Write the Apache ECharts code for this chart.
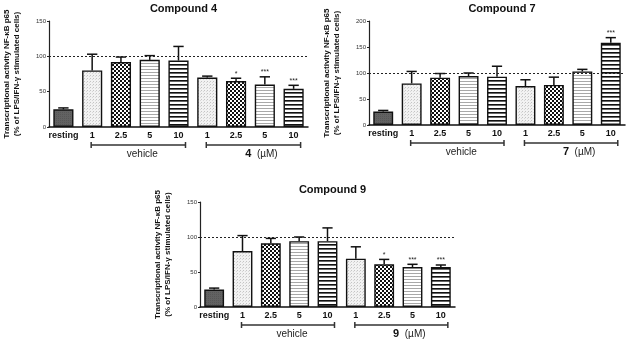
<!DOCTYPE html>
<html>
<head>
<meta charset="utf-8">
<script src="https://cdn.jsdelivr.net/npm/echarts@6/dist/echarts.min.js"></script>
<style>
  html, body { margin: 0; padding: 0; background: #fff; }
  #main { width: 629px; height: 340px; }
</style>
</head>
<body>
<div id="main"></div>
<script>
// categories (resting, vehicle 1..10, compound 1..10 µM)
const categories = ['resting', '1', '2.5', '5', '10', '1', '2.5', '5', '10']
const patternKeys = ['solid', 'stipple', 'checker', 'fine', 'bold', 'stipple', 'checker', 'fine', 'bold']

// mean values (% of LPS/IFN-γ stimulated cells) and upper error (SEM)
const c4Mean = [25, 80, 92, 95, 94, 70, 65, 60, 54]
const c4Err = [2, 23, 7, 6, 20, 2, 4, 11, 5]
const c4Stars = ['', '', '', '', '', '', '*', '***', '***']

const c7Mean = [26, 80, 91, 94, 93, 75, 77, 103, 158]
const c7Err = [2, 23, 8, 6, 20, 12, 15, 4, 10]
const c7Stars = ['', '', '', '', '', '', '', '', '***']

const c9Mean = [25, 80, 91, 94, 94, 69, 61, 57, 57]
const c9Err = [2, 22, 7, 6, 19, 17, 7, 4, 3]
const c9Stars = ['', '', '', '', '', '', '*', '***', '***']

// group brackets under the axis: [first index, last index]
const groupRanges = [[1, 4], [5, 8]]

const yTicks4 = { max: 150, interval: 50 }
const yTicks7 = { max: 200, interval: 50 }
const yTicks9 = { max: 150, interval: 50 }

const FONT = '"Liberation Sans", Arial, sans-serif'

function makePattern(w, h, draw) {
  const c = document.createElement('canvas')
  c.width = w
  c.height = h
  const ctx = c.getContext('2d')
  draw(ctx)
  return { image: c, repeat: 'repeat' }
}

const patterns = {
  solid: makePattern(2, 2, ctx => {
    ctx.fillStyle = '#626262'
    ctx.fillRect(0, 0, 2, 2)
    ctx.fillStyle = '#575757'
    ctx.fillRect(0, 0, 1, 1)
  }),
  stipple: makePattern(3, 3, ctx => {
    ctx.fillStyle = '#f2f2f2'
    ctx.fillRect(0, 0, 3, 3)
    ctx.fillStyle = '#c4c4c4'
    ctx.fillRect(0, 0, 1, 1)
    ctx.fillStyle = '#d8d8d8'
    ctx.fillRect(2, 1, 1, 1)
  }),
  checker: makePattern(4, 4, ctx => {
    ctx.fillStyle = '#ffffff'
    ctx.fillRect(0, 0, 4, 4)
    ctx.fillStyle = '#111111'
    ctx.fillRect(0, 0, 2, 2)
    ctx.fillRect(2, 2, 2, 2)
  }),
  fine: makePattern(2, 3, ctx => {
    ctx.fillStyle = '#ffffff'
    ctx.fillRect(0, 0, 2, 3)
    ctx.fillStyle = '#a8a8a8'
    ctx.fillRect(0, 0, 2, 1)
  }),
  bold: makePattern(2, 4, ctx => {
    ctx.fillStyle = '#ffffff'
    ctx.fillRect(0, 0, 2, 4)
    ctx.fillStyle = '#111111'
    ctx.fillRect(0, 0, 2, 1)
    ctx.fillStyle = '#666666'
    ctx.fillRect(0, 1, 2, 1)
  })
}

const panels = [
  { title: 'Compound 4', compound: '4', mean: c4Mean, err: c4Err, stars: c4Stars, ticks: yTicks4,
    grid: { left: 49, top: 21, width: 259, height: 106 } },
  { title: 'Compound 7', compound: '7', mean: c7Mean, err: c7Err, stars: c7Stars, ticks: yTicks7,
    grid: { left: 369, top: 21, width: 256, height: 104 } },
  { title: 'Compound 9', compound: '9', mean: c9Mean, err: c9Err, stars: c9Stars, ticks: yTicks9,
    grid: { left: 200, top: 202, width: 255, height: 105 } }
]

const chart = echarts.init(document.getElementById('main'))

const grids = []
const xAxes = []
const yAxes = []
const titles = []
const series = []

panels.forEach((p, i) => {
  grids.push(p.grid)
  titles.push({
    text: p.title,
    left: p.grid.left + p.grid.width / 2,
    top: p.grid.top - 23,
    textAlign: 'center',
    textStyle: { fontFamily: FONT, fontSize: 11, fontWeight: 'bold', color: '#111' }
  })
  xAxes.push({
    type: 'category',
    gridIndex: i,
    data: categories,
    axisLine: { lineStyle: { color: '#111', width: 1.5 } },
    axisTick: { alignWithLabel: true, length: 2, lineStyle: { color: '#333' } },
    axisLabel: { fontFamily: FONT, fontSize: 9, fontWeight: 'bold', color: '#111', margin: 4, interval: 0 }
  })
  yAxes.push({
    type: 'value',
    gridIndex: i,
    min: 0,
    max: p.ticks.max,
    interval: p.ticks.interval,
    name: 'Transcriptional activity NF-κB p65\n(% of LPS/IFN-γ stimulated cells)',
    nameLocation: 'middle',
    nameGap: 27,
    nameTextStyle: { fontFamily: FONT, fontSize: 8, fontWeight: 'bold', color: '#111', lineHeight: 10 },
    splitLine: { show: false },
    axisLine: { show: true, lineStyle: { color: '#222', width: 1.2 } },
    axisTick: { show: true, length: 2, lineStyle: { color: '#222' } },
    axisLabel: { fontFamily: FONT, fontSize: 6, color: '#333', margin: 3 }
  })

  series.push({
    type: 'bar',
    xAxisIndex: i,
    yAxisIndex: i,
    barWidth: '70%',
    data: p.mean.map((v, k) => ({
      value: v,
      itemStyle: { color: patterns[patternKeys[k]], borderColor: '#111', borderWidth: 1.4 }
    })),
    markLine: {
      silent: true,
      symbol: 'none',
      label: { show: false },
      lineStyle: { color: '#222', type: [2, 2], width: 1 },
      data: [{ yAxis: 100 }]
    }
  })

  // error bars + significance stars
  series.push({
    type: 'custom',
    xAxisIndex: i,
    yAxisIndex: i,
    z: 3,
    data: p.mean.map((v, k) => [k, v, p.err[k]]),
    encode: { x: 0, y: 1 },
    renderItem: (params, api) => {
      const x = api.value(0)
      const m = api.value(1)
      const e = api.value(2)
      const base = api.coord([x, m])
      const top = api.coord([x, m + e])
      const half = api.size([1, 0])[0] * 0.18
      const star = p.stars[params.dataIndex]
      const children = [
        { type: 'line', shape: { x1: base[0], y1: base[1], x2: top[0], y2: top[1] },
          style: { stroke: '#111', lineWidth: 1.5 } },
        { type: 'line', shape: { x1: top[0] - half, y1: top[1], x2: top[0] + half, y2: top[1] },
          style: { stroke: '#111', lineWidth: 1.5 } }
      ]
      if (star) {
        children.push({
          type: 'text', x: top[0], y: top[1] - 1,
          style: { text: star, fill: '#222', fontFamily: FONT, fontSize: 7, align: 'center', verticalAlign: 'bottom' }
        })
      }
      return { type: 'group', children }
    }
  })

  // group brackets (vehicle / compound µM)
  const groupNames = ['vehicle', p.compound]
  series.push({
    type: 'custom',
    xAxisIndex: i,
    yAxisIndex: i,
    silent: true,
    data: groupRanges.map(r => [r[0], r[1]]),
    encode: { x: [0, 1] },
    renderItem: (params, api) => {
      const a = api.coord([api.value(0), 0])
      const b = api.coord([api.value(1), 0])
      const x1 = a[0] - 1
      const x2 = b[0] + 7
      const y = a[1] + 18
      const isCompound = params.dataIndex === 1
      return {
        type: 'group',
        children: [
          { type: 'line', shape: { x1, y1: y, x2, y2: y }, style: { stroke: '#333', lineWidth: 1.5 } },
          { type: 'line', shape: { x1, y1: y - 3, x2: x1, y2: y + 3 }, style: { stroke: '#333', lineWidth: 1.5 } },
          { type: 'line', shape: { x1: x2, y1: y - 3, x2, y2: y + 3 }, style: { stroke: '#333', lineWidth: 1.5 } },
          {
            type: 'text',
            x: (x1 + x2) / 2 + (isCompound ? 8 : 4),
            y: y + 9,
            style: {
              text: isCompound ? '{b|' + groupNames[1] + '}  (µM)' : groupNames[0],
              fill: '#222',
              fontFamily: FONT,
              fontSize: 10,
              align: 'center',
              verticalAlign: 'middle',
              rich: { b: { fontFamily: FONT, fontSize: 11, fontWeight: 'bold', fill: '#111' } }
            }
          }
        ]
      }
    }
  })
})

chart.setOption({
  animation: false,
  backgroundColor: '#fff',
  title: titles,
  grid: grids,
  xAxis: xAxes,
  yAxis: yAxes,
  series: series
})
</script>
</body>
</html>
